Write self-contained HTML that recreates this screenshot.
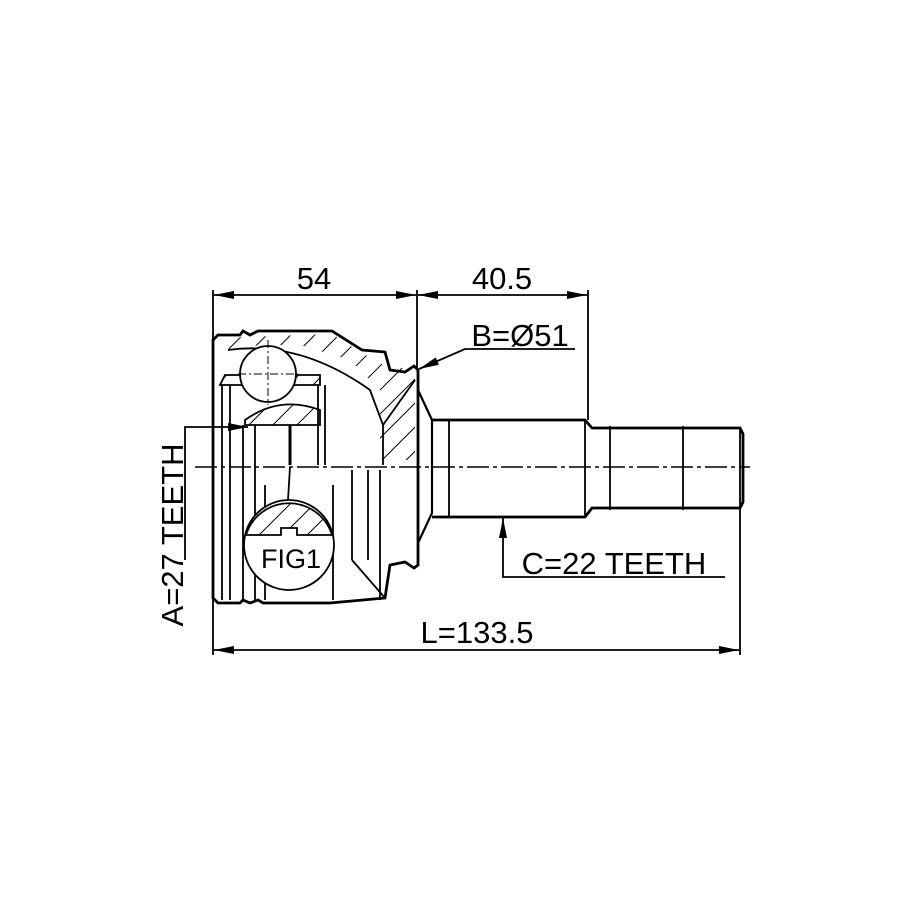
<!DOCTYPE html>
<html><head><style>html,body{margin:0;padding:0;background:#fff}svg{display:block}</style></head>
<body>
<svg width="915" height="915" viewBox="0 0 915 915" xmlns="http://www.w3.org/2000/svg">
<defs>
<pattern id="h" width="17" height="17" patternUnits="userSpaceOnUse" patternTransform="rotate(45)">
<line x1="0" y1="0" x2="0" y2="17" stroke="#000" stroke-width="2"/>
</pattern>
<marker id="a" viewBox="0 0 20 8" refX="20" refY="4" markerWidth="20" markerHeight="8" orient="auto-start-reverse" markerUnits="userSpaceOnUse">
<path d="M0,0 L20,4 L0,8 Z" fill="#000"/></marker>
</defs>
<g fill="none" stroke="#000" stroke-width="1.8">
<line x1="213" y1="290" x2="213" y2="655"/>
<line x1="417" y1="290" x2="417" y2="368"/>
<line x1="588" y1="290" x2="588" y2="420"/>
<line x1="740" y1="505" x2="740" y2="655"/>
<line x1="214" y1="295" x2="416" y2="295" marker-start="url(#a)" marker-end="url(#a)"/>
<line x1="418" y1="295" x2="587" y2="295" marker-start="url(#a)" marker-end="url(#a)"/>
<line x1="214" y1="650" x2="739" y2="650" marker-start="url(#a)" marker-end="url(#a)"/>
<polyline points="575,349 465,349 419,369" marker-end="url(#a)"/>
<polyline points="185,560 185,427 248,427" marker-end="url(#a)"/>
<polyline points="725,577 503,577 503,518" marker-end="url(#a)"/>
<line x1="195" y1="467" x2="750" y2="467" stroke-width="1.4" stroke-dasharray="22,4,4,4"/>
<path d="M218,335 L240,335 L243,331 L250,335 L258,331 L263,331 L332,331 L362,350 L385,352 L390,370 L405,372 L414,366 L418,370 L418,565 L414,568 L405,562 L390,565 L385,598 L330,603 L263,603 L258,600 L250,603 L243,600 L240,603 L218,603 L213,598 L213,340 Z" stroke-width="2.8"/>
<path d="M218,338 L332,334 L360,352 L384,365 L415,370 L415,460 L380,460 L380,390 L350,360 L300,345 L260,345 L230,350 Z" fill="url(#h)" stroke="none"/>
<path d="M228,350 Q300,340 370,390 L383,425 L383,465"/>
<path d="M383,425 L415,380"/>
<path d="M220,385 L225,375 L320,375 L320,385 L228,385 Z" fill="url(#h)"/>
<path d="M245,420 Q280,395 320,410 L320,425 L245,425 Z" fill="url(#h)"/>
<line x1="222" y1="385" x2="222" y2="600"/>
<line x1="230" y1="385" x2="230" y2="600"/>
<line x1="243" y1="425" x2="243" y2="600"/>
<line x1="255" y1="425" x2="255" y2="600"/>
<line x1="265" y1="485" x2="265" y2="600"/>
<line x1="318" y1="385" x2="318" y2="465"/>
<line x1="325" y1="385" x2="325" y2="465"/>
<line x1="333" y1="485" x2="333" y2="600"/>
<line x1="352" y1="470" x2="352" y2="560"/>
<line x1="368" y1="470" x2="368" y2="560"/>
<line x1="380" y1="470" x2="380" y2="600"/>
<line x1="290" y1="425" x2="290" y2="465" stroke-width="3"/>
<line x1="290" y1="467" x2="288" y2="500"/>
<path d="M352,560 L385,598"/>
<circle cx="268" cy="374" r="28" fill="#fff"/>
<line x1="268" y1="340" x2="268" y2="405" stroke-width="1" stroke-dasharray="8,3,2,3"/>
<line x1="238" y1="374" x2="298" y2="374" stroke-width="1" stroke-dasharray="8,3,2,3"/>
<circle cx="289" cy="545" r="45" fill="#fff"/>
<path d="M246,535 A45,45 0 0 1 332,535 L297,535 L297,528 L281,528 L281,535 Z" fill="url(#h)"/>
<path d="M418,390 L432,420 L432,513 L418,543" stroke-width="2.2"/>
<path d="M432,420 L585,420 L592,428 L740,428 L743,434 L743,502 L740,508 L592,508 L585,517 L432,517" stroke-width="2.8"/>
<line x1="449" y1="420" x2="449" y2="517"/>
<line x1="585" y1="420" x2="585" y2="517"/>
<line x1="610" y1="426" x2="610" y2="510"/>
<line x1="683" y1="426" x2="683" y2="510"/>
<line x1="740" y1="428" x2="740" y2="508"/>
</g>
<g font-family="Liberation Sans, sans-serif" font-size="31" fill="#000">
<text x="314" y="289" text-anchor="middle">54</text>
<text x="502" y="289" text-anchor="middle">40.5</text>
<text x="520" y="346" text-anchor="middle">B=Ø51</text>
<text x="477" y="643" text-anchor="middle">L=133.5</text>
<text x="614" y="574" text-anchor="middle">C=22 TEETH</text>
<text transform="translate(183,535) rotate(-90)" text-anchor="middle">A=27 TEETH</text>
<text x="291" y="568" text-anchor="middle" font-size="27">FIG1</text>
</g>
</svg>
</body></html>
